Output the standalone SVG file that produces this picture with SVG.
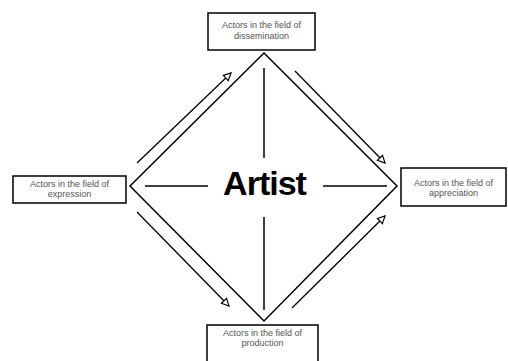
<svg xmlns="http://www.w3.org/2000/svg" width="508" height="361" viewBox="0 0 508 361">
<defs>
<marker id="ah" viewBox="0 0 10 10" refX="9" refY="5" markerWidth="9" markerHeight="9" markerUnits="userSpaceOnUse" orient="auto">
<path d="M1,1 L9,5 L1,9 Z" fill="#fff" stroke="#000" stroke-width="1.3" stroke-linejoin="miter"/>
</marker>
</defs>
<style>
.box{fill:#fff;stroke:#000;stroke-width:1.5}
.lbl{font-family:"Liberation Sans",Arial,sans-serif;font-size:9px;fill:#555;text-anchor:middle}
.ln{stroke:#000;stroke-width:1.5;fill:none}
.ar{stroke:#000;stroke-width:1.3;fill:none;marker-end:url(#ah)}
</style>
<rect width="508" height="361" fill="#fff"/>
<g id="connectors">
<path class="ln" d="M264,53 L130,186 L264,321 L397,186 Z" stroke-linejoin="miter"/>
<line class="ln" x1="264" y1="68" x2="264" y2="158"/>
<line class="ln" x1="264" y1="217" x2="264" y2="310"/>
<line class="ln" x1="145" y1="186" x2="208" y2="186"/>
<line class="ln" x1="323" y1="186" x2="387" y2="186"/>
<line class="ar" x1="137" y1="163" x2="231" y2="73"/>
<line class="ar" x1="295" y1="71" x2="385" y2="163"/>
<line class="ar" x1="137" y1="212" x2="229" y2="306"/>
<line class="ar" x1="292" y1="308" x2="385" y2="216"/>
</g>
<g id="artist">
<text x="264.5" y="195" font-family="'Liberation Sans',Arial,sans-serif" font-weight="bold" font-size="34" letter-spacing="-1" text-anchor="middle" fill="#000">Artist</text>
</g>
<g id="dissemination">
<rect class="box" x="208" y="13" width="107" height="37"/>
<text class="lbl" x="261.5" y="28">Actors in the field of</text>
<text class="lbl" x="261.5" y="39">dissemination</text>
</g>
<g id="expression">
<rect class="box" x="13" y="176" width="113" height="27"/>
<text class="lbl" x="69.5" y="187">Actors in the field of</text>
<text class="lbl" x="69.5" y="197">expression</text>
</g>
<g id="appreciation">
<rect class="box" x="401" y="168" width="105" height="38"/>
<text class="lbl" x="453.5" y="186">Actors in the field of</text>
<text class="lbl" x="453.5" y="196">appreciation</text>
</g>
<g id="production">
<rect class="box" x="207" y="325" width="111" height="40"/>
<text class="lbl" x="262.5" y="336">Actors in the field of</text>
<text class="lbl" x="262.5" y="346">production</text>
</g>
</svg>
